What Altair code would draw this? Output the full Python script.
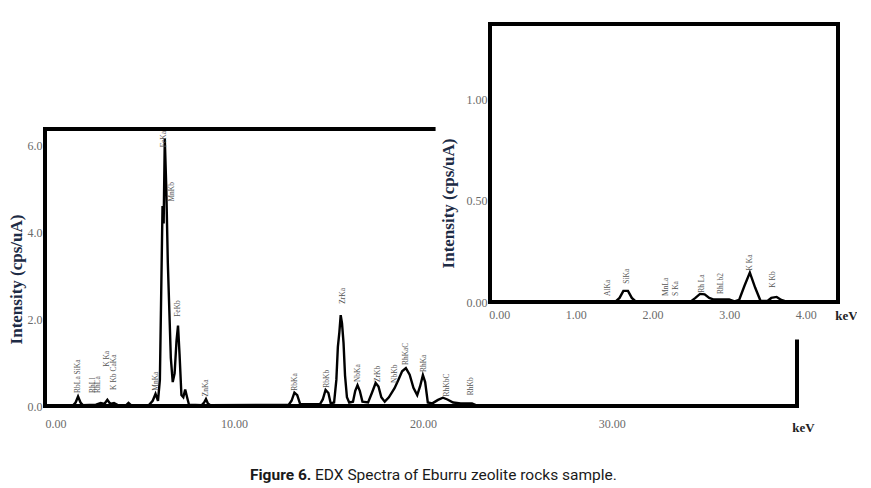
import altair as alt
import pandas as pd

# ---------------- data ----------------
main_kev = [0.0, 1.5, 1.62, 1.75, 1.88, 2.0, 2.7, 2.95, 3.15, 3.3, 3.45, 3.65, 3.85, 4.3, 4.42, 4.55,
            5.5, 5.7, 5.85, 5.98, 6.08, 6.15, 6.22, 6.28, 6.34, 6.42, 6.5, 6.58, 6.66, 6.76, 6.86,
            6.96, 7.04, 7.12, 7.22, 7.32, 7.42, 7.52, 7.62, 8.3, 8.42, 8.52, 8.62, 8.75,
            12.9, 13.05, 13.2, 13.35, 13.5, 14.55, 14.7, 14.85, 15.0, 15.12, 15.3, 15.42, 15.5,
            15.58, 15.65, 15.72, 15.8, 15.88, 15.98, 16.1, 16.3, 16.42, 16.54, 16.66, 16.8, 17.1,
            17.3, 17.5, 17.65, 17.8, 17.98, 18.2, 18.5, 18.7, 18.9, 19.1, 19.3, 19.5, 19.7, 19.85,
            20.0, 20.12, 20.26, 20.5, 20.8, 21.06, 21.3, 21.6, 22.0, 22.6, 22.8, 39.8]
main_int = [0.02, 0.02, 0.08, 0.22, 0.08, 0.02, 0.03, 0.07, 0.05, 0.14, 0.05, 0.07, 0.02, 0.02, 0.07, 0.02,
            0.02, 0.12, 0.28, 0.12, 0.6, 2.6, 4.6, 4.2, 6.15, 5.0, 3.3, 2.2, 1.1, 0.55, 0.75,
            1.5, 1.85, 1.2, 0.25, 0.2, 0.38, 0.2, 0.03, 0.02, 0.08, 0.16, 0.06, 0.02,
            0.03, 0.12, 0.31, 0.25, 0.05, 0.04, 0.15, 0.37, 0.3, 0.06, 0.08, 0.6, 1.36,
            1.7, 2.09, 1.9, 1.45, 0.7, 0.2, 0.08, 0.1, 0.35, 0.48, 0.35, 0.1, 0.08,
            0.3, 0.53, 0.45, 0.2, 0.1, 0.2, 0.41, 0.6, 0.8, 0.87, 0.72, 0.42, 0.25, 0.45,
            0.71, 0.55, 0.08, 0.06, 0.14, 0.19, 0.15, 0.08, 0.06, 0.06, 0.02, 0.02]

main_labels = ["RbLa SiKa", "RhLl", "RhLa", "K Ka", "K Kb CaKa", "MnKa", "FeKa", "MnKb", "FeKb",
               "ZnKa", "RbKa", "RbKb", "ZrKa", "NbKa", "ZrKb", "NbKb", "RhKaC", "RhKa", "RhKbC", "RhKb"]
main_label_kev = [1.75, 2.55, 2.8, 3.3, 3.65, 5.9, 6.3, 6.72, 7.06, 8.52, 13.25, 14.9, 15.75,
                  16.55, 17.6, 18.5, 19.1, 20.05, 21.3, 22.55]
main_label_val = [0.3, 0.3, 0.3, 0.9, 0.37, 0.35, 5.95, 4.7, 2.05, 0.22, 0.35, 0.42, 2.35,
                  0.55, 0.55, 0.53, 0.94, 0.78, 0.22, 0.25]

inset_kev = [-0.12, 1.52, 1.57, 1.62, 1.68, 1.73, 1.78, 2.5, 2.56, 2.62, 2.68, 2.74, 2.8, 3.0,
             3.07, 3.13, 3.2, 3.27, 3.34, 3.41, 3.5, 3.55, 3.62, 3.68, 3.74, 4.42]
inset_int = [0.003, 0.003, 0.02, 0.055, 0.055, 0.02, 0.003, 0.003, 0.02, 0.04, 0.038, 0.02, 0.012, 0.012,
             0.003, 0.01, 0.08, 0.145, 0.07, 0.005, 0.005, 0.02, 0.025, 0.01, 0.003, 0.003]

inset_labels = ["AlKa", "SiKa", "MnLa", "S Ka", "Rh La", "RhLb2", "K Ka", "K Kb"]
inset_label_kev = [1.42, 1.67, 2.17, 2.31, 2.65, 2.9, 3.27, 3.57]
inset_label_val = [0.03, 0.09, 0.03, 0.03, 0.045, 0.04, 0.155, 0.07]

main_x_dom = [0.0, 39.8]
main_y_dom = [0.0, 6.37]
inset_x_dom = [-0.12, 4.42]
inset_y_dom = [0.0, 1.37]

# ---------------- styling ----------------
SERIF = "Liberation Serif"
SANS = "Roboto"
TITLE_C = "#1d2b45"
LAB_C = "#6a6a6a"
W, H = 752, 277

main_df = pd.DataFrame({"kev": main_kev, "val": main_int})
main_lab_df = pd.DataFrame({"kev": main_label_kev, "val": main_label_val, "label": main_labels})
inset_df = pd.DataFrame({"kev": inset_kev, "val": inset_int})
inset_lab_df = pd.DataFrame({"kev": inset_label_kev, "val": inset_label_val, "label": inset_labels})
main_frame = pd.DataFrame({"kev": [main_x_dom[0]], "kev2": [main_x_dom[1]],
                           "val": [main_y_dom[0]], "val2": [main_y_dom[1]]})
inset_frame = pd.DataFrame({"kev": [inset_x_dom[0]], "kev2": [inset_x_dom[1]],
                            "val": [inset_y_dom[0]], "val2": [inset_y_dom[1]]})
inset_bg = pd.DataFrame({"kev": [-0.83], "kev2": [4.75], "val": [-0.185], "val2": [1.45]})

common_axis = dict(grid=False, ticks=False, domain=False, labelFont=SERIF, labelFontSize=12,
                   labelColor=LAB_C, zindex=1, labelOverlap=False)

mx = alt.X("kev:Q", scale=alt.Scale(domain=main_x_dom, nice=False, zero=False),
           axis=alt.Axis(orient="bottom", values=[0, 10, 20, 30], format=".2f", labelPadding=12,
                         title="keV", titleX=758, titleY=21, titleFont=SERIF, titleFontSize=13,
                         titleFontWeight="bold", titleColor="#222", titleAlign="center",
                         titleBaseline="middle", **common_axis))
my = alt.Y("val:Q", scale=alt.Scale(domain=main_y_dom, nice=False, zero=False),
           axis=alt.Axis(orient="left", values=[0, 2, 4, 6], format=".1f", labelPadding=3,
                         title="Intensity (cps/uA)", titleX=-29, titleY=150, titleAngle=270,
                         titleFont=SERIF, titleFontSize=17, titleFontWeight="bold",
                         titleColor=TITLE_C, titleAlign="center", titleBaseline="middle",
                         **common_axis))

ix = alt.X("kev:Q", scale=alt.Scale(domain=inset_x_dom, range=[445, 793], nice=False, zero=False),
           axis=alt.Axis(orient="bottom", offset=-104, values=[0, 1, 2, 3, 4], format=".2f",
                         labelPadding=7, title="keV", titleX=801, titleY=13, titleFont=SERIF,
                         titleFontSize=13, titleFontWeight="bold", titleColor="#222",
                         titleAlign="center", titleBaseline="middle", **common_axis))
iy = alt.Y("val:Q", scale=alt.Scale(domain=inset_y_dom, range=[173, -105], nice=False, zero=False),
           axis=alt.Axis(orient="left", offset=-445, values=[0, 0.5, 1.0], format=".2f",
                         labelPadding=3, title="Intensity (cps/uA)", titleX=-42, titleY=74,
                         titleAngle=270, titleFont=SERIF, titleFontSize=17, titleFontWeight="bold",
                         titleColor=TITLE_C, titleAlign="center", titleBaseline="middle",
                         **common_axis))

# ---------------- main spectrum ----------------
m_frame = alt.Chart(main_frame).mark_rect(fill=None, stroke="black", strokeWidth=4).encode(
    x=mx, x2="kev2:Q", y=my, y2="val2:Q")
m_line = alt.Chart(main_df).mark_line(color="black", strokeWidth=2.4).encode(x=mx, y=my)
m_text = alt.Chart(main_lab_df).mark_text(angle=270, align="left", baseline="middle", font=SERIF,
                                          fontSize=7.5, color="#555").encode(
    x=mx, y=my, text="label:N")

cap_df1 = pd.DataFrame({"t": ["Figure 6."]})
cap_df2 = pd.DataFrame({"t": ["EDX Spectra of Eburru zeolite rocks sample."]})
cap1 = alt.Chart(cap_df1).mark_text(align="left", baseline="middle", font=SANS,
                                    fontSize=15.5, fontWeight="bold", color="#1a1a1a").encode(
    x=alt.value(205), y=alt.value(346), text="t:N")
cap2 = alt.Chart(cap_df2).mark_text(align="left", baseline="middle", font=SANS,
                                    fontSize=15.5, color="#1a1a1a").encode(
    x=alt.value(270), y=alt.value(346), text="t:N")

main_layer = alt.layer(m_frame, m_line, m_text, cap1, cap2)

# ---------------- inset ----------------
i_bg = alt.Chart(inset_bg).mark_rect(fill="white", stroke=None).encode(
    x=ix, x2="kev2:Q", y=iy, y2="val2:Q")
i_frame = alt.Chart(inset_frame).mark_rect(fill=None, stroke="black", strokeWidth=4).encode(
    x=ix, x2="kev2:Q", y=iy, y2="val2:Q")
i_line = alt.Chart(inset_df).mark_line(color="black", strokeWidth=2.4).encode(x=ix, y=iy)
i_text = alt.Chart(inset_lab_df).mark_text(angle=270, align="left", baseline="middle", font=SERIF,
                                           fontSize=7.5, color="#555").encode(
    x=ix, y=iy, text="label:N")

inset_layer = alt.layer(i_bg, i_frame, i_line, i_text)

chart = alt.layer(main_layer, inset_layer).resolve_scale(
    x="independent", y="independent"
).properties(
    width=W, height=H,
    autosize=alt.AutoSizeParams(type="none"),
    padding={"left": 37, "top": 121, "right": 60, "bottom": 82},
    background="white",
).configure_view(stroke=None)

chart.save("out.html", embed_options={"renderer": "svg", "actions": False})
